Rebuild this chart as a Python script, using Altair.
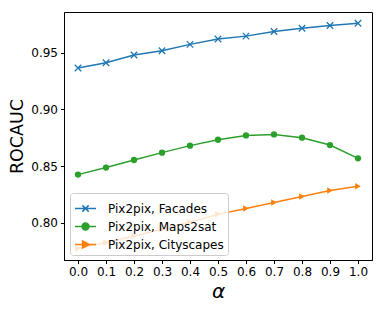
import altair as alt
import pandas as pd

alpha = [0.0, 0.1, 0.2, 0.3, 0.4, 0.5, 0.6, 0.7, 0.8, 0.9, 1.0]
facades = [0.9365, 0.9412, 0.9480, 0.9518, 0.9574, 0.9621, 0.9647, 0.9688, 0.9717, 0.9741, 0.9761]
maps2sat = [0.8424, 0.8486, 0.8553, 0.8618, 0.8680, 0.8732, 0.8770, 0.8779, 0.8750, 0.8685, 0.8568]
cityscapes = [0.7771, 0.7824, 0.7882, 0.7941, 0.8005, 0.8073, 0.8125, 0.8177, 0.8230, 0.8283, 0.8321]

series_names = ["Pix2pix, Facades", "Pix2pix, Maps2sat", "Pix2pix, Cityscapes"]
colors = ["#1f77b4", "#2ca02c", "#ff7f0e"]
y_ticks = [0.80, 0.85, 0.90, 0.95]

rows = []
for name, vals in zip(series_names, [facades, maps2sat, cityscapes]):
    for a, v in zip(alpha, vals):
        rows.append({"alpha": a, "roc": v, "series": name})
df = pd.DataFrame(rows)

xs = alt.Scale(domain=[-0.05, 1.05], nice=False, zero=False)
ys = alt.Scale(domain=[0.767, 0.986], nice=False, zero=False)
cscale = alt.Scale(domain=series_names, range=colors)

x_enc = alt.X("alpha:Q", scale=xs, title="α",
              axis=alt.Axis(values=alpha, format=".1f"))
y_enc = alt.Y("roc:Q", scale=ys, title="ROCAUC",
              axis=alt.Axis(values=y_ticks, format=".2f"))

layers = []
for name, col in zip(series_names, colors):
    sub = df[df.series == name]
    base = alt.Chart(sub).encode(x=x_enc, y=y_enc)
    line = base.mark_line(color=col, strokeWidth=1.5)
    if name == "Pix2pix, Facades":
        pts = base.mark_point(shape="M-1,-1L1,1M-1,1L1,-1", size=42, filled=False,
                              stroke=col, strokeWidth=1.3, opacity=1)
    elif name == "Pix2pix, Maps2sat":
        pts = base.mark_point(shape="circle", size=40, filled=True, color=col, opacity=1)
    else:
        pts = base.mark_point(shape="triangle-right", size=42, filled=True, color=col, opacity=1)
    layers += [line, pts]

legend_shapes = [
    "M-1,0L1,0M-0.3,-0.3L0.3,0.3M-0.3,0.3L0.3,-0.3",
    "M-1,0L1,0M0.33,0A0.33,0.33,0,1,1,-0.33,0A0.33,0.33,0,1,1,0.33,0Z",
    "M-1,0L1,0M-0.28,-0.33L0.36,0L-0.28,0.33Z",
]

leg = alt.Legend(
    title=None, orient="none", legendX=6, legendY=181,
    fillColor="rgba(255,255,255,0.8)", strokeColor="#cccccc", cornerRadius=3,
    padding=4, symbolSize=441, symbolStrokeWidth=1.5, symbolOpacity=1,
    labelFontSize=12, labelFont="DejaVu Sans", labelColor="black",
    labelOffset=11, rowPadding=-3,
)

legend_layer = alt.Chart(df).mark_point(filled=True, opacity=0).encode(
    x=x_enc, y=y_enc,
    fill=alt.Fill("series:N", scale=cscale, legend=leg, sort=series_names),
    stroke=alt.Stroke("series:N", scale=cscale, legend=leg, sort=series_names),
    shape=alt.Shape("series:N", scale=alt.Scale(domain=series_names, range=legend_shapes),
                    legend=leg, sort=series_names),
)
layers.append(legend_layer)

chart = alt.layer(*layers).properties(
    width=308, height=248,
    autosize=alt.AutoSizeParams(type="none"),
    padding={"left": 56, "top": 4, "right": 2, "bottom": 47},
).configure_view(
    stroke="black", strokeWidth=1
).configure_axis(
    grid=False, domainColor="black", tickColor="black", tickSize=3.5,
    labelFont="DejaVu Sans", labelFontSize=12, labelColor="black",
    titleFont="DejaVu Sans", titleColor="black", titleFontWeight="normal",
).configure_axisX(
    labelPadding=3, titleFontSize=20, titleFontStyle="italic", titlePadding=4,
).configure_axisY(
    labelPadding=3, titleFontSize=17.5, titlePadding=4,
)

chart.save("out.html", embed_options={"renderer": "svg", "actions": False})
